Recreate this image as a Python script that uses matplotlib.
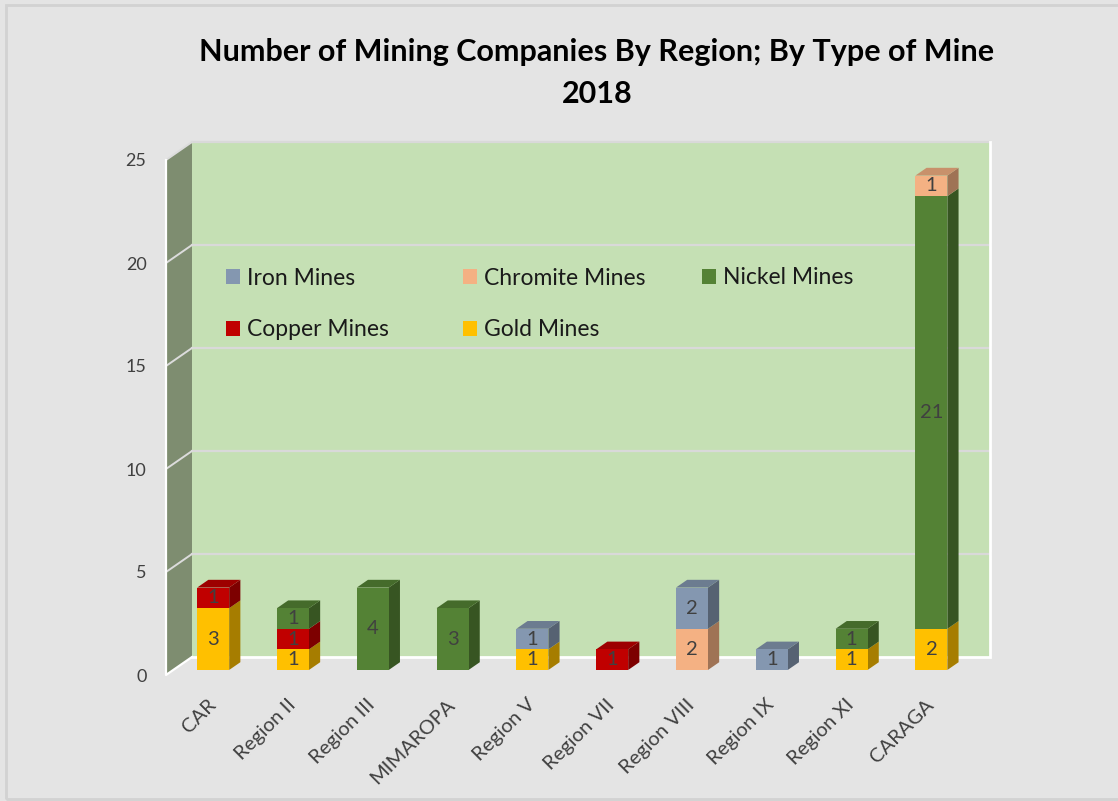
import matplotlib
matplotlib.use("Agg")
import matplotlib.pyplot as plt
from matplotlib.patches import Polygon, Rectangle, Patch
from matplotlib.transforms import ScaledTranslation
from matplotlib.colors import to_rgb

# ---------------- data ----------------
regions = ["CAR", "Region II", "Region III", "MIMAROPA", "Region V",
           "Region VII", "Region VIII", "Region IX", "Region XI", "CARAGA"]
gold_mines = [3, 1, 0, 0, 1, 0, 0, 0, 1, 2]
copper_mines = [1, 1, 0, 0, 0, 1, 0, 0, 0, 0]
nickel_mines = [0, 1, 4, 3, 0, 0, 0, 0, 1, 21]
chromite_mines = [0, 0, 0, 0, 0, 0, 2, 0, 0, 1]
iron_mines = [0, 0, 0, 0, 1, 0, 2, 1, 0, 0]
y_ticks = [0, 5, 10, 15, 20, 25]
title_line1 = "Number of Mining Companies By Region; By Type of Mine"
title_line2 = "2018"

# stacking order bottom -> top
series = [
    ("Gold Mines", gold_mines, "#ffc000"),
    ("Copper Mines", copper_mines, "#c00000"),
    ("Nickel Mines", nickel_mines, "#548235"),
    ("Chromite Mines", chromite_mines, "#f4b183"),
    ("Iron Mines", iron_mines, "#8497b0"),
]

FONT = ["Lato", "DejaVu Sans"]
plt.rcParams["font.family"] = FONT


def shade(c, f):
    r, g, b = to_rgb(c)
    return (r * f, g * f, b * f)


W, H = 1118, 801
fig = plt.figure(figsize=(W / 100, H / 100), dpi=100, facecolor="#e4e4e4")

# outer chart border
fig.patches.append(Rectangle((6 / W, 1 - 799 / H), (W + 20) / W, (799 - 5) / H,
                             transform=fig.transFigure, fill=False,
                             edgecolor="#d2d2d2", lw=2, zorder=0))

# axes = front plane of the walls
x0_px, x1_px = 166, 964
y0_px, y1_px = 675, 160
ax = fig.add_axes([x0_px / W, (H - y0_px) / H, (x1_px - x0_px) / W, (y0_px - y1_px) / H])
ax.set_xlim(-0.5, 9.5)
ax.set_ylim(0, 25)
ax.set_facecolor("none")
for s in ax.spines.values():
    s.set_visible(False)

ppx = (x1_px - x0_px) / 10.0
ppy = (y0_px - y1_px) / 25.0
Dx, Dy = 26 / ppx, 18 / ppy          # full wall depth in data units
xl, xr = -0.5, 9.5
ymax = 25

wall_green = "#c5e0b4"
side_col = "#7e8d70"
grid_col = "#d9d9d9"

# back wall
ax.add_patch(Polygon([(xl + Dx, Dy), (xr + Dx, Dy), (xr + Dx, ymax + Dy), (xl + Dx, ymax + Dy)],
                     closed=True, facecolor=wall_green, edgecolor="none", zorder=0, clip_on=False))
# side wall
ax.add_patch(Polygon([(xl, 0), (xl + Dx, Dy), (xl + Dx, ymax + Dy), (xl, ymax)],
                     closed=True, facecolor=side_col, edgecolor="none", zorder=0, clip_on=False))
# gridlines
for v in y_ticks[1:]:
    ax.plot([xl + Dx, xr + Dx], [v + Dy, v + Dy], color=grid_col, lw=1.6, zorder=0.5, clip_on=False)
    ax.plot([xl, xl + Dx], [v, v + Dy], color="#dcdcdc", lw=1.4, zorder=0.5, clip_on=False)
# wall edges (white)
ax.plot([xl + Dx, xr + Dx, xr + Dx], [Dy, Dy, ymax + Dy], color="white", lw=2, zorder=0.6,
        clip_on=False, solid_joinstyle="miter")
ax.plot([xl + Dx, xl, xl], [Dy, 0, ymax], color="white", lw=1.6, zorder=0.6, clip_on=False)

# bars
f0 = 0.28          # fraction of depth where bar front sits
bd = 0.43          # bar depth as fraction of wall depth
bw = 32 / ppx      # bar width
ox, oy = f0 * Dx, f0 * Dy
ddx, ddy = bd * Dx, bd * Dy

n = len(regions)
bottoms = [0] * n
tops_info = [None] * n
for name, vals, col in series:
    xs = [i + ox for i in range(n)]
    bs = [b + oy for b in bottoms]
    hs = [v if v > 0 else 0 for v in vals]
    ax.bar(xs, hs, width=bw, bottom=bs, color=col, edgecolor="none", zorder=3)
    for i, v in enumerate(vals):
        if v <= 0:
            continue
        xc = i + ox
        b = bottoms[i] + oy
        t = b + v
        xrgt = xc + bw / 2
        ax.add_patch(Polygon([(xrgt, b), (xrgt + ddx, b + ddy), (xrgt + ddx, t + ddy), (xrgt, t)],
                             closed=True, facecolor=shade(col, 0.65), edgecolor="none", zorder=2.5))
        ax.text(xc, b + v / 2, str(v), ha="center", va="center", fontsize=14.5,
                color="#404040", zorder=5)
        tops_info[i] = (xc, t, col)
        bottoms[i] += v

for i in range(n):
    if tops_info[i] is None:
        continue
    xc, t, col = tops_info[i]
    ax.add_patch(Polygon([(xc - bw / 2, t), (xc + bw / 2, t), (xc + bw / 2 + ddx, t + ddy),
                          (xc - bw / 2 + ddx, t + ddy)],
                         closed=True, facecolor=shade(col, 0.82), edgecolor="none", zorder=2.6))

# ticks
ax.set_yticks(y_ticks)
ax.set_yticklabels([str(v) for v in y_ticks], fontsize=13, color="#404040")
ax.tick_params(axis="y", length=0, pad=14)
ax.set_xticks(range(n))
ax.set_xticklabels(regions, rotation=45, ha="right", va="top", rotation_mode="anchor",
                   fontsize=14.5, color="#404040")
ax.tick_params(axis="x", length=0, pad=15)
shift = ScaledTranslation(1 / 100, 0, fig.dpi_scale_trans)
for lab in ax.get_xticklabels():
    lab.set_transform(lab.get_transform() + shift)

# title
fig.text(597 / W, 1 - 52 / H, title_line1, ha="center", va="center", fontsize=22,
         fontweight="bold", color="black")
fig.text(597 / W, 1 - 94 / H, title_line2, ha="center", va="center", fontsize=22,
         fontweight="bold", color="black")

# legend (three columns placed separately)
colors = {name: col for name, _, col in series}
leg_kw = dict(frameon=False, fontsize=16.5, handlelength=0.61, handleheight=0.61,
              handletextpad=0.3, borderpad=0, borderaxespad=0, labelspacing=1.33,
              labelcolor="#1a1a1a")
cols = [(["Iron Mines", "Copper Mines"], 226, 304), (["Chromite Mines", "Gold Mines"], 463, 304),
        (["Nickel Mines"], 702, 278)]
for names, xpx, ycen in cols:
    handles = [Patch(facecolor=colors[nm], edgecolor="none", label=nm) for nm in names]
    fig.legend(handles=handles, loc="center left",
               bbox_to_anchor=(xpx / W, 1 - ycen / H), **leg_kw)

fig.savefig("out.png", dpi=100, facecolor=fig.get_facecolor())
